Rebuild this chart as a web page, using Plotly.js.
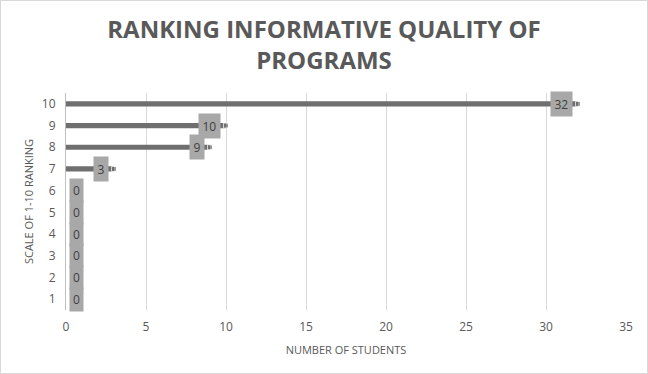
<!DOCTYPE html>
<html><head><meta charset="utf-8">
<script src="https://cdn.plot.ly/plotly-3.0.1.min.js"></script>
<style>html,body{margin:0;padding:0;background:#fff}#c{width:648px;height:374px;box-sizing:border-box;border:1px solid #d9d9d9}</style>
</head><body><div id="c"></div>
<script>
var rankings = [1, 2, 3, 4, 5, 6, 7, 8, 9, 10];
var students = [0, 0, 0, 0, 0, 0, 3, 9, 10, 32];
var xTicks = [0, 5, 10, 15, 20, 25, 30, 35];

var bars = {
  type: 'bar', orientation: 'h', x: students, y: rankings, width: 0.24,
  marker: {color: '#6f6f6f'}, hoverinfo: 'x+y'
};
var ends = {
  type: 'scatter', mode: 'markers', x: students, y: rankings,
  marker: {symbol: 'square', size: students.map(function (v) { return v > 0 ? 5 : 0; }), color: '#6f6f6f'},
  hoverinfo: 'skip'
};
var annotations = students.map(function (v, i) {
  var zero = v === 0;
  return {
    x: v, y: rankings[i], xref: 'x', yref: 'y', text: String(v),
    showarrow: false, xanchor: zero ? 'left' : 'right',
    xshift: zero ? 3 : -5,
    bgcolor: '#a8a8a8', borderpad: zero ? 3 : 3.5,
    font: {family: 'Open Sans, sans-serif', size: 12, color: '#404040'}
  };
});

var layout = {
  width: 646, height: 372,
  margin: {l: 65, r: 21, t: 92, b: 63},
  paper_bgcolor: '#fff', plot_bgcolor: '#fff',
  showlegend: false,
  title: {
    text: 'RANKING INFORMATIVE QUALITY OF<br>PROGRAMS',
    font: {family: 'Open Sans, sans-serif', size: 24, color: '#595959', weight: 'bold'},
    x: 0.5, xanchor: 'center', y: 0.9, yanchor: 'top'
  },
  xaxis: {
    range: [0, 35], tickvals: xTicks, ticktext: xTicks.map(String),
    showgrid: true, gridcolor: '#d9d9d9', gridwidth: 1, zeroline: false,
    showline: false, ticks: '', ticklabelstandoff: 8,
    tickfont: {family: 'Open Sans, sans-serif', size: 12, color: '#595959'},
    title: {text: 'NUMBER OF STUDENTS', standoff: 12,
      font: {family: 'Open Sans, sans-serif', size: 11, color: '#595959'}}
  },
  yaxis: {
    range: [0.5, 10.5], tickvals: rankings, ticktext: rankings.map(String),
    showgrid: false, zeroline: false, showline: true, linecolor: '#bfbfbf', linewidth: 1,
    ticks: '', ticklabelstandoff: 7,
    tickfont: {family: 'Open Sans, sans-serif', size: 12, color: '#595959'},
    title: {text: 'SCALE OF 1-10 RANKING', standoff: 6,
      font: {family: 'Open Sans, sans-serif', size: 11, color: '#595959'}}
  },
  annotations: annotations
};
Plotly.newPlot('c', [bars, ends], layout, {displayModeBar: false, staticPlot: true});
</script></body></html>
